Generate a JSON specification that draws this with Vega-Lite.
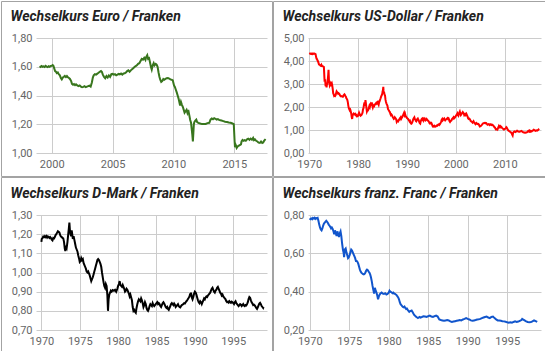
{
"$schema": "https://vega.github.io/schema/vega-lite/v6.json",
"padding": 0,
"datasets": {
"eur": [
{"t":1999.0,"v":1.603},{"t":1999.08,"v":1.598},{"t":1999.17,"v":1.605},{"t":1999.25,"v":1.6},{"t":1999.33,"v":1.603},{"t":1999.42,"v":1.598},{"t":1999.5,"v":1.606},{"t":1999.58,"v":1.601},{"t":1999.67,"v":1.598},{"t":1999.75,"v":1.604},{"t":1999.83,"v":1.6},{"t":1999.92,"v":1.606},{"t":2000.0,"v":1.607},{"t":2000.08,"v":1.612},{"t":2000.15,"v":1.605},{"t":2000.2,"v":1.59},{"t":2000.28,"v":1.57},{"t":2000.35,"v":1.565},{"t":2000.42,"v":1.556},{"t":2000.5,"v":1.56},{"t":2000.58,"v":1.548},{"t":2000.67,"v":1.54},{"t":2000.75,"v":1.522},{"t":2000.83,"v":1.512},{"t":2000.92,"v":1.525},{"t":2001.0,"v":1.53},{"t":2001.08,"v":1.536},{"t":2001.17,"v":1.528},{"t":2001.25,"v":1.535},{"t":2001.33,"v":1.527},{"t":2001.42,"v":1.522},{"t":2001.5,"v":1.515},{"t":2001.6,"v":1.5},{"t":2001.67,"v":1.48},{"t":2001.75,"v":1.475},{"t":2001.83,"v":1.48},{"t":2001.92,"v":1.472},{"t":2002.0,"v":1.478},{"t":2002.1,"v":1.47},{"t":2002.2,"v":1.465},{"t":2002.3,"v":1.47},{"t":2002.4,"v":1.462},{"t":2002.5,"v":1.458},{"t":2002.6,"v":1.46},{"t":2002.7,"v":1.465},{"t":2002.8,"v":1.458},{"t":2002.9,"v":1.462},{"t":2003.0,"v":1.465},{"t":2003.1,"v":1.468},{"t":2003.2,"v":1.462},{"t":2003.3,"v":1.49},{"t":2003.38,"v":1.525},{"t":2003.45,"v":1.54},{"t":2003.55,"v":1.548},{"t":2003.65,"v":1.545},{"t":2003.75,"v":1.552},{"t":2003.85,"v":1.558},{"t":2003.95,"v":1.565},{"t":2004.05,"v":1.57},{"t":2004.12,"v":1.565},{"t":2004.2,"v":1.545},{"t":2004.3,"v":1.53},{"t":2004.4,"v":1.52},{"t":2004.5,"v":1.535},{"t":2004.6,"v":1.525},{"t":2004.7,"v":1.54},{"t":2004.8,"v":1.53},{"t":2004.9,"v":1.548},{"t":2005.0,"v":1.55},{"t":2005.1,"v":1.545},{"t":2005.2,"v":1.548},{"t":2005.3,"v":1.54},{"t":2005.4,"v":1.545},{"t":2005.5,"v":1.55},{"t":2005.6,"v":1.547},{"t":2005.7,"v":1.553},{"t":2005.8,"v":1.545},{"t":2005.9,"v":1.553},{"t":2006.0,"v":1.555},{"t":2006.1,"v":1.56},{"t":2006.2,"v":1.57},{"t":2006.3,"v":1.575},{"t":2006.4,"v":1.565},{"t":2006.5,"v":1.575},{"t":2006.6,"v":1.582},{"t":2006.7,"v":1.59},{"t":2006.8,"v":1.598},{"t":2006.9,"v":1.604},{"t":2007.0,"v":1.61},{"t":2007.1,"v":1.62},{"t":2007.2,"v":1.625},{"t":2007.3,"v":1.64},{"t":2007.4,"v":1.655},{"t":2007.5,"v":1.65},{"t":2007.6,"v":1.662},{"t":2007.7,"v":1.648},{"t":2007.75,"v":1.665},{"t":2007.85,"v":1.68},{"t":2007.92,"v":1.655},{"t":2008.0,"v":1.66},{"t":2008.08,"v":1.63},{"t":2008.15,"v":1.6},{"t":2008.22,"v":1.58},{"t":2008.3,"v":1.61},{"t":2008.38,"v":1.625},{"t":2008.45,"v":1.61},{"t":2008.55,"v":1.62},{"t":2008.62,"v":1.615},{"t":2008.7,"v":1.6},{"t":2008.78,"v":1.56},{"t":2008.85,"v":1.53},{"t":2008.92,"v":1.51},{"t":2009.0,"v":1.495},{"t":2009.08,"v":1.5},{"t":2009.17,"v":1.515},{"t":2009.25,"v":1.51},{"t":2009.35,"v":1.515},{"t":2009.45,"v":1.52},{"t":2009.55,"v":1.522},{"t":2009.65,"v":1.518},{"t":2009.75,"v":1.512},{"t":2009.85,"v":1.51},{"t":2009.95,"v":1.505},{"t":2010.05,"v":1.47},{"t":2010.12,"v":1.46},{"t":2010.2,"v":1.44},{"t":2010.28,"v":1.42},{"t":2010.35,"v":1.4},{"t":2010.42,"v":1.38},{"t":2010.5,"v":1.35},{"t":2010.55,"v":1.33},{"t":2010.62,"v":1.355},{"t":2010.7,"v":1.335},{"t":2010.78,"v":1.32},{"t":2010.85,"v":1.3},{"t":2010.92,"v":1.28},{"t":2011.0,"v":1.29},{"t":2011.08,"v":1.3},{"t":2011.15,"v":1.28},{"t":2011.22,"v":1.3},{"t":2011.3,"v":1.265},{"t":2011.38,"v":1.23},{"t":2011.45,"v":1.21},{"t":2011.5,"v":1.17},{"t":2011.55,"v":1.13},{"t":2011.6,"v":1.08},{"t":2011.64,"v":1.14},{"t":2011.68,"v":1.2},{"t":2011.72,"v":1.215},{"t":2011.8,"v":1.225},{"t":2011.88,"v":1.232},{"t":2011.95,"v":1.215},{"t":2012.05,"v":1.21},{"t":2012.2,"v":1.205},{"t":2012.35,"v":1.201},{"t":2012.5,"v":1.201},{"t":2012.65,"v":1.202},{"t":2012.8,"v":1.208},{"t":2012.95,"v":1.21},{"t":2013.05,"v":1.232},{"t":2013.15,"v":1.24},{"t":2013.25,"v":1.235},{"t":2013.35,"v":1.242},{"t":2013.45,"v":1.238},{"t":2013.55,"v":1.232},{"t":2013.65,"v":1.236},{"t":2013.75,"v":1.23},{"t":2013.85,"v":1.228},{"t":2013.95,"v":1.226},{"t":2014.1,"v":1.222},{"t":2014.25,"v":1.218},{"t":2014.4,"v":1.215},{"t":2014.55,"v":1.212},{"t":2014.7,"v":1.21},{"t":2014.85,"v":1.205},{"t":2014.96,"v":1.201},{"t":2015.03,"v":1.08},{"t":2015.06,"v":1.04},{"t":2015.1,"v":1.06},{"t":2015.15,"v":1.05},{"t":2015.2,"v":1.035},{"t":2015.28,"v":1.045},{"t":2015.35,"v":1.05},{"t":2015.45,"v":1.055},{"t":2015.55,"v":1.06},{"t":2015.6,"v":1.08},{"t":2015.68,"v":1.09},{"t":2015.75,"v":1.085},{"t":2015.85,"v":1.09},{"t":2015.95,"v":1.085},{"t":2016.05,"v":1.095},{"t":2016.15,"v":1.1},{"t":2016.25,"v":1.092},{"t":2016.35,"v":1.1},{"t":2016.45,"v":1.092},{"t":2016.55,"v":1.105},{"t":2016.62,"v":1.09},{"t":2016.7,"v":1.095},{"t":2016.8,"v":1.085},{"t":2016.9,"v":1.08},{"t":2017.0,"v":1.072},{"t":2017.1,"v":1.07},{"t":2017.2,"v":1.08},{"t":2017.3,"v":1.07},{"t":2017.38,"v":1.073},{"t":2017.45,"v":1.085},{"t":2017.52,"v":1.092},{"t":2017.58,"v":1.088}
],
"usd": [
{"t":1970.0,"v":4.31},{"t":1970.1,"v":4.32},{"t":1970.2,"v":4.31},{"t":1970.3,"v":4.32},{"t":1970.4,"v":4.31},{"t":1970.5,"v":4.32},{"t":1970.6,"v":4.3},{"t":1970.7,"v":4.32},{"t":1970.8,"v":4.31},{"t":1970.9,"v":4.32},{"t":1971.0,"v":4.31},{"t":1971.1,"v":4.32},{"t":1971.2,"v":4.31},{"t":1971.3,"v":4.3},{"t":1971.4,"v":4.18},{"t":1971.5,"v":4.1},{"t":1971.6,"v":4.08},{"t":1971.7,"v":4.02},{"t":1971.8,"v":3.98},{"t":1971.9,"v":3.92},{"t":1972.0,"v":3.85},{"t":1972.1,"v":3.84},{"t":1972.2,"v":3.82},{"t":1972.3,"v":3.8},{"t":1972.4,"v":3.79},{"t":1972.5,"v":3.83},{"t":1972.6,"v":3.78},{"t":1972.7,"v":3.78},{"t":1972.8,"v":3.77},{"t":1972.9,"v":3.76},{"t":1973.0,"v":3.74},{"t":1973.1,"v":3.3},{"t":1973.15,"v":3.1},{"t":1973.25,"v":3.2},{"t":1973.35,"v":2.9},{"t":1973.45,"v":2.95},{"t":1973.5,"v":3.05},{"t":1973.55,"v":2.85},{"t":1973.6,"v":2.95},{"t":1973.7,"v":3.0},{"t":1973.8,"v":3.2},{"t":1973.88,"v":3.4},{"t":1973.95,"v":3.62},{"t":1974.0,"v":3.35},{"t":1974.05,"v":3.05},{"t":1974.1,"v":3.15},{"t":1974.2,"v":2.95},{"t":1974.3,"v":3.0},{"t":1974.4,"v":2.9},{"t":1974.5,"v":3.02},{"t":1974.6,"v":3.05},{"t":1974.7,"v":2.95},{"t":1974.8,"v":2.8},{"t":1974.9,"v":2.6},{"t":1975.0,"v":2.55},{"t":1975.1,"v":2.48},{"t":1975.2,"v":2.5},{"t":1975.3,"v":2.48},{"t":1975.4,"v":2.52},{"t":1975.5,"v":2.6},{"t":1975.6,"v":2.68},{"t":1975.7,"v":2.65},{"t":1975.8,"v":2.62},{"t":1975.9,"v":2.58},{"t":1976.0,"v":2.6},{"t":1976.1,"v":2.58},{"t":1976.2,"v":2.55},{"t":1976.3,"v":2.5},{"t":1976.4,"v":2.48},{"t":1976.5,"v":2.46},{"t":1976.6,"v":2.47},{"t":1976.7,"v":2.46},{"t":1976.8,"v":2.45},{"t":1976.9,"v":2.45},{"t":1977.0,"v":2.5},{"t":1977.1,"v":2.53},{"t":1977.2,"v":2.55},{"t":1977.3,"v":2.52},{"t":1977.4,"v":2.48},{"t":1977.5,"v":2.45},{"t":1977.6,"v":2.38},{"t":1977.7,"v":2.35},{"t":1977.8,"v":2.3},{"t":1977.9,"v":2.2},{"t":1978.0,"v":2.05},{"t":1978.1,"v":1.95},{"t":1978.2,"v":1.9},{"t":1978.3,"v":1.85},{"t":1978.4,"v":1.88},{"t":1978.5,"v":1.8},{"t":1978.6,"v":1.7},{"t":1978.7,"v":1.55},{"t":1978.78,"v":1.48},{"t":1978.85,"v":1.6},{"t":1978.95,"v":1.68},{"t":1979.1,"v":1.72},{"t":1979.2,"v":1.7},{"t":1979.3,"v":1.68},{"t":1979.4,"v":1.7},{"t":1979.5,"v":1.65},{"t":1979.6,"v":1.63},{"t":1979.7,"v":1.65},{"t":1979.8,"v":1.6},{"t":1979.9,"v":1.62},{"t":1980.0,"v":1.62},{"t":1980.1,"v":1.68},{"t":1980.2,"v":1.75},{"t":1980.3,"v":1.7},{"t":1980.4,"v":1.65},{"t":1980.5,"v":1.62},{"t":1980.6,"v":1.64},{"t":1980.7,"v":1.66},{"t":1980.8,"v":1.7},{"t":1980.9,"v":1.75},{"t":1981.0,"v":1.9},{"t":1981.1,"v":1.95},{"t":1981.2,"v":2.1},{"t":1981.3,"v":2.2},{"t":1981.4,"v":2.05},{"t":1981.5,"v":2.3},{"t":1981.6,"v":2.15},{"t":1981.7,"v":1.95},{"t":1981.8,"v":1.8},{"t":1981.9,"v":1.85},{"t":1982.0,"v":1.85},{"t":1982.1,"v":1.9},{"t":1982.2,"v":1.98},{"t":1982.3,"v":2.05},{"t":1982.4,"v":2.0},{"t":1982.5,"v":2.1},{"t":1982.6,"v":2.15},{"t":1982.7,"v":2.12},{"t":1982.8,"v":2.2},{"t":1982.9,"v":2.05},{"t":1983.0,"v":1.98},{"t":1983.1,"v":2.05},{"t":1983.2,"v":2.08},{"t":1983.3,"v":2.05},{"t":1983.4,"v":2.1},{"t":1983.5,"v":2.12},{"t":1983.6,"v":2.15},{"t":1983.7,"v":2.18},{"t":1983.8,"v":2.15},{"t":1983.9,"v":2.2},{"t":1984.0,"v":2.22},{"t":1984.1,"v":2.15},{"t":1984.2,"v":2.1},{"t":1984.3,"v":2.2},{"t":1984.4,"v":2.25},{"t":1984.5,"v":2.32},{"t":1984.6,"v":2.38},{"t":1984.7,"v":2.45},{"t":1984.8,"v":2.5},{"t":1984.9,"v":2.55},{"t":1985.0,"v":2.65},{"t":1985.1,"v":2.78},{"t":1985.15,"v":2.88},{"t":1985.2,"v":2.7},{"t":1985.25,"v":2.6},{"t":1985.3,"v":2.65},{"t":1985.4,"v":2.55},{"t":1985.5,"v":2.5},{"t":1985.6,"v":2.32},{"t":1985.7,"v":2.22},{"t":1985.8,"v":2.15},{"t":1985.9,"v":2.1},{"t":1986.0,"v":2.05},{"t":1986.1,"v":1.92},{"t":1986.2,"v":1.88},{"t":1986.3,"v":1.85},{"t":1986.4,"v":1.8},{"t":1986.5,"v":1.78},{"t":1986.6,"v":1.7},{"t":1986.7,"v":1.65},{"t":1986.8,"v":1.68},{"t":1986.9,"v":1.65},{"t":1987.0,"v":1.6},{"t":1987.1,"v":1.55},{"t":1987.2,"v":1.52},{"t":1987.3,"v":1.48},{"t":1987.4,"v":1.5},{"t":1987.5,"v":1.55},{"t":1987.6,"v":1.52},{"t":1987.7,"v":1.5},{"t":1987.8,"v":1.45},{"t":1987.9,"v":1.35},{"t":1988.0,"v":1.38},{"t":1988.1,"v":1.4},{"t":1988.2,"v":1.38},{"t":1988.3,"v":1.42},{"t":1988.4,"v":1.45},{"t":1988.5,"v":1.5},{"t":1988.6,"v":1.52},{"t":1988.7,"v":1.55},{"t":1988.8,"v":1.48},{"t":1988.9,"v":1.52},{"t":1989.0,"v":1.55},{"t":1989.1,"v":1.6},{"t":1989.2,"v":1.65},{"t":1989.3,"v":1.7},{"t":1989.4,"v":1.75},{"t":1989.5,"v":1.65},{"t":1989.6,"v":1.7},{"t":1989.7,"v":1.62},{"t":1989.8,"v":1.58},{"t":1989.9,"v":1.55},{"t":1990.0,"v":1.52},{"t":1990.1,"v":1.5},{"t":1990.2,"v":1.48},{"t":1990.3,"v":1.45},{"t":1990.4,"v":1.42},{"t":1990.5,"v":1.38},{"t":1990.6,"v":1.4},{"t":1990.7,"v":1.32},{"t":1990.8,"v":1.28},{"t":1990.9,"v":1.27},{"t":1991.0,"v":1.3},{"t":1991.1,"v":1.35},{"t":1991.2,"v":1.42},{"t":1991.3,"v":1.48},{"t":1991.4,"v":1.52},{"t":1991.5,"v":1.55},{"t":1991.6,"v":1.48},{"t":1991.7,"v":1.45},{"t":1991.8,"v":1.4},{"t":1991.9,"v":1.38},{"t":1992.0,"v":1.42},{"t":1992.1,"v":1.48},{"t":1992.2,"v":1.5},{"t":1992.3,"v":1.45},{"t":1992.4,"v":1.42},{"t":1992.5,"v":1.35},{"t":1992.6,"v":1.3},{"t":1992.7,"v":1.28},{"t":1992.8,"v":1.38},{"t":1992.9,"v":1.42},{"t":1993.0,"v":1.48},{"t":1993.1,"v":1.5},{"t":1993.2,"v":1.45},{"t":1993.3,"v":1.48},{"t":1993.4,"v":1.42},{"t":1993.5,"v":1.48},{"t":1993.6,"v":1.5},{"t":1993.7,"v":1.45},{"t":1993.8,"v":1.42},{"t":1993.9,"v":1.45},{"t":1994.0,"v":1.48},{"t":1994.1,"v":1.45},{"t":1994.2,"v":1.42},{"t":1994.3,"v":1.4},{"t":1994.4,"v":1.38},{"t":1994.5,"v":1.35},{"t":1994.6,"v":1.3},{"t":1994.7,"v":1.28},{"t":1994.8,"v":1.3},{"t":1994.9,"v":1.32},{"t":1995.0,"v":1.3},{"t":1995.1,"v":1.25},{"t":1995.2,"v":1.18},{"t":1995.3,"v":1.15},{"t":1995.4,"v":1.17},{"t":1995.5,"v":1.15},{"t":1995.6,"v":1.18},{"t":1995.7,"v":1.16},{"t":1995.8,"v":1.15},{"t":1995.9,"v":1.16},{"t":1996.0,"v":1.18},{"t":1996.1,"v":1.2},{"t":1996.2,"v":1.19},{"t":1996.3,"v":1.22},{"t":1996.4,"v":1.24},{"t":1996.5,"v":1.25},{"t":1996.6,"v":1.22},{"t":1996.7,"v":1.24},{"t":1996.8,"v":1.28},{"t":1996.9,"v":1.32},{"t":1997.0,"v":1.38},{"t":1997.1,"v":1.45},{"t":1997.2,"v":1.48},{"t":1997.3,"v":1.42},{"t":1997.4,"v":1.45},{"t":1997.5,"v":1.48},{"t":1997.6,"v":1.5},{"t":1997.7,"v":1.45},{"t":1997.8,"v":1.42},{"t":1997.9,"v":1.45},{"t":1998.0,"v":1.46},{"t":1998.1,"v":1.48},{"t":1998.2,"v":1.5},{"t":1998.3,"v":1.52},{"t":1998.4,"v":1.48},{"t":1998.5,"v":1.5},{"t":1998.6,"v":1.45},{"t":1998.7,"v":1.38},{"t":1998.8,"v":1.35},{"t":1998.9,"v":1.38},{"t":1999.0,"v":1.4},{"t":1999.1,"v":1.42},{"t":1999.2,"v":1.48},{"t":1999.3,"v":1.5},{"t":1999.4,"v":1.52},{"t":1999.5,"v":1.55},{"t":1999.6,"v":1.5},{"t":1999.7,"v":1.52},{"t":1999.8,"v":1.55},{"t":1999.9,"v":1.58},{"t":2000.0,"v":1.62},{"t":2000.1,"v":1.65},{"t":2000.2,"v":1.68},{"t":2000.3,"v":1.72},{"t":2000.4,"v":1.65},{"t":2000.5,"v":1.62},{"t":2000.6,"v":1.7},{"t":2000.7,"v":1.75},{"t":2000.8,"v":1.8},{"t":2000.9,"v":1.72},{"t":2001.0,"v":1.65},{"t":2001.1,"v":1.68},{"t":2001.2,"v":1.72},{"t":2001.3,"v":1.75},{"t":2001.4,"v":1.78},{"t":2001.5,"v":1.75},{"t":2001.6,"v":1.72},{"t":2001.7,"v":1.65},{"t":2001.8,"v":1.68},{"t":2001.9,"v":1.65},{"t":2002.0,"v":1.7},{"t":2002.1,"v":1.72},{"t":2002.2,"v":1.68},{"t":2002.3,"v":1.62},{"t":2002.4,"v":1.58},{"t":2002.5,"v":1.5},{"t":2002.6,"v":1.48},{"t":2002.7,"v":1.5},{"t":2002.8,"v":1.48},{"t":2002.9,"v":1.45},{"t":2003.0,"v":1.4},{"t":2003.1,"v":1.38},{"t":2003.2,"v":1.36},{"t":2003.3,"v":1.35},{"t":2003.4,"v":1.32},{"t":2003.5,"v":1.35},{"t":2003.6,"v":1.38},{"t":2003.7,"v":1.33},{"t":2003.8,"v":1.32},{"t":2003.9,"v":1.28},{"t":2004.0,"v":1.25},{"t":2004.1,"v":1.27},{"t":2004.2,"v":1.3},{"t":2004.3,"v":1.28},{"t":2004.4,"v":1.26},{"t":2004.5,"v":1.25},{"t":2004.6,"v":1.26},{"t":2004.7,"v":1.24},{"t":2004.8,"v":1.18},{"t":2004.9,"v":1.15},{"t":2005.0,"v":1.17},{"t":2005.1,"v":1.18},{"t":2005.2,"v":1.2},{"t":2005.3,"v":1.22},{"t":2005.4,"v":1.25},{"t":2005.5,"v":1.28},{"t":2005.6,"v":1.29},{"t":2005.7,"v":1.3},{"t":2005.8,"v":1.31},{"t":2005.9,"v":1.3},{"t":2006.0,"v":1.29},{"t":2006.1,"v":1.31},{"t":2006.2,"v":1.3},{"t":2006.3,"v":1.27},{"t":2006.4,"v":1.24},{"t":2006.5,"v":1.23},{"t":2006.6,"v":1.25},{"t":2006.7,"v":1.26},{"t":2006.8,"v":1.25},{"t":2006.9,"v":1.22},{"t":2007.0,"v":1.24},{"t":2007.1,"v":1.25},{"t":2007.2,"v":1.22},{"t":2007.3,"v":1.21},{"t":2007.4,"v":1.23},{"t":2007.5,"v":1.22},{"t":2007.6,"v":1.2},{"t":2007.7,"v":1.18},{"t":2007.8,"v":1.15},{"t":2007.9,"v":1.12},{"t":2008.0,"v":1.1},{"t":2008.1,"v":1.05},{"t":2008.2,"v":1.02},{"t":2008.3,"v":1.03},{"t":2008.4,"v":1.04},{"t":2008.5,"v":1.02},{"t":2008.6,"v":1.08},{"t":2008.7,"v":1.12},{"t":2008.8,"v":1.18},{"t":2008.9,"v":1.15},{"t":2009.0,"v":1.12},{"t":2009.1,"v":1.17},{"t":2009.2,"v":1.15},{"t":2009.3,"v":1.13},{"t":2009.4,"v":1.1},{"t":2009.5,"v":1.08},{"t":2009.6,"v":1.06},{"t":2009.7,"v":1.04},{"t":2009.8,"v":1.02},{"t":2009.9,"v":1.03},{"t":2010.0,"v":1.05},{"t":2010.1,"v":1.06},{"t":2010.2,"v":1.08},{"t":2010.3,"v":1.12},{"t":2010.4,"v":1.1},{"t":2010.5,"v":1.05},{"t":2010.6,"v":1.02},{"t":2010.7,"v":0.98},{"t":2010.8,"v":0.97},{"t":2010.9,"v":0.95},{"t":2011.0,"v":0.94},{"t":2011.1,"v":0.92},{"t":2011.2,"v":0.91},{"t":2011.3,"v":0.88},{"t":2011.4,"v":0.85},{"t":2011.5,"v":0.8},{"t":2011.6,"v":0.76},{"t":2011.65,"v":0.82},{"t":2011.7,"v":0.88},{"t":2011.8,"v":0.91},{"t":2011.9,"v":0.93},{"t":2012.0,"v":0.94},{"t":2012.1,"v":0.92},{"t":2012.2,"v":0.91},{"t":2012.3,"v":0.93},{"t":2012.4,"v":0.95},{"t":2012.5,"v":0.97},{"t":2012.6,"v":0.96},{"t":2012.7,"v":0.94},{"t":2012.8,"v":0.93},{"t":2012.9,"v":0.92},{"t":2013.0,"v":0.92},{"t":2013.1,"v":0.93},{"t":2013.2,"v":0.94},{"t":2013.3,"v":0.95},{"t":2013.4,"v":0.96},{"t":2013.5,"v":0.94},{"t":2013.6,"v":0.93},{"t":2013.7,"v":0.91},{"t":2013.8,"v":0.9},{"t":2013.9,"v":0.89},{"t":2014.0,"v":0.89},{"t":2014.1,"v":0.88},{"t":2014.2,"v":0.88},{"t":2014.3,"v":0.89},{"t":2014.4,"v":0.89},{"t":2014.5,"v":0.9},{"t":2014.6,"v":0.91},{"t":2014.7,"v":0.94},{"t":2014.8,"v":0.96},{"t":2014.9,"v":0.97},{"t":2015.0,"v":0.98},{"t":2015.05,"v":0.88},{"t":2015.1,"v":0.92},{"t":2015.2,"v":0.95},{"t":2015.3,"v":0.96},{"t":2015.4,"v":0.93},{"t":2015.5,"v":0.94},{"t":2015.6,"v":0.96},{"t":2015.7,"v":0.97},{"t":2015.8,"v":0.99},{"t":2015.9,"v":1.01},{"t":2016.0,"v":1.0},{"t":2016.1,"v":0.99},{"t":2016.2,"v":0.97},{"t":2016.3,"v":0.96},{"t":2016.4,"v":0.97},{"t":2016.5,"v":0.98},{"t":2016.6,"v":0.97},{"t":2016.7,"v":0.98},{"t":2016.8,"v":1.0},{"t":2016.9,"v":1.02},{"t":2017.0,"v":0.99}
],
"dem": [
{"t":1970.0,"v":1.16},{"t":1970.05,"v":1.175},{"t":1970.15,"v":1.18},{"t":1970.25,"v":1.188},{"t":1970.35,"v":1.185},{"t":1970.45,"v":1.19},{"t":1970.55,"v":1.185},{"t":1970.65,"v":1.19},{"t":1970.75,"v":1.182},{"t":1970.85,"v":1.188},{"t":1970.95,"v":1.185},{"t":1971.05,"v":1.18},{"t":1971.15,"v":1.185},{"t":1971.25,"v":1.18},{"t":1971.35,"v":1.172},{"t":1971.45,"v":1.168},{"t":1971.55,"v":1.18},{"t":1971.65,"v":1.178},{"t":1971.75,"v":1.185},{"t":1971.85,"v":1.195},{"t":1971.95,"v":1.2},{"t":1972.05,"v":1.208},{"t":1972.15,"v":1.215},{"t":1972.25,"v":1.212},{"t":1972.35,"v":1.208},{"t":1972.45,"v":1.195},{"t":1972.55,"v":1.188},{"t":1972.65,"v":1.185},{"t":1972.75,"v":1.18},{"t":1972.85,"v":1.178},{"t":1972.95,"v":1.16},{"t":1973.05,"v":1.125},{"t":1973.12,"v":1.112},{"t":1973.2,"v":1.14},{"t":1973.3,"v":1.13},{"t":1973.4,"v":1.16},{"t":1973.5,"v":1.2},{"t":1973.58,"v":1.23},{"t":1973.65,"v":1.26},{"t":1973.72,"v":1.22},{"t":1973.8,"v":1.2},{"t":1973.88,"v":1.19},{"t":1973.95,"v":1.22},{"t":1974.02,"v":1.2},{"t":1974.1,"v":1.175},{"t":1974.2,"v":1.19},{"t":1974.3,"v":1.17},{"t":1974.4,"v":1.15},{"t":1974.5,"v":1.13},{"t":1974.6,"v":1.12},{"t":1974.7,"v":1.11},{"t":1974.8,"v":1.09},{"t":1974.9,"v":1.075},{"t":1975.0,"v":1.055},{"t":1975.1,"v":1.06},{"t":1975.2,"v":1.075},{"t":1975.3,"v":1.065},{"t":1975.4,"v":1.07},{"t":1975.5,"v":1.05},{"t":1975.6,"v":1.04},{"t":1975.7,"v":1.03},{"t":1975.8,"v":1.02},{"t":1975.9,"v":1.005},{"t":1976.0,"v":1.0},{"t":1976.1,"v":1.005},{"t":1976.2,"v":0.995},{"t":1976.3,"v":0.985},{"t":1976.4,"v":0.97},{"t":1976.5,"v":0.955},{"t":1976.6,"v":0.965},{"t":1976.7,"v":0.975},{"t":1976.8,"v":0.99},{"t":1976.9,"v":1.005},{"t":1977.0,"v":1.02},{"t":1977.1,"v":1.035},{"t":1977.2,"v":1.05},{"t":1977.3,"v":1.065},{"t":1977.4,"v":1.07},{"t":1977.5,"v":1.065},{"t":1977.6,"v":1.055},{"t":1977.7,"v":1.045},{"t":1977.8,"v":1.03},{"t":1977.9,"v":1.0},{"t":1978.0,"v":0.975},{"t":1978.1,"v":0.95},{"t":1978.2,"v":0.93},{"t":1978.3,"v":0.92},{"t":1978.4,"v":0.94},{"t":1978.5,"v":0.93},{"t":1978.6,"v":0.88},{"t":1978.68,"v":0.8},{"t":1978.76,"v":0.86},{"t":1978.85,"v":0.885},{"t":1978.95,"v":0.895},{"t":1979.05,"v":0.905},{"t":1979.15,"v":0.9},{"t":1979.3,"v":0.908},{"t":1979.45,"v":0.905},{"t":1979.6,"v":0.91},{"t":1979.75,"v":0.9},{"t":1979.9,"v":0.915},{"t":1980.0,"v":0.93},{"t":1980.1,"v":0.94},{"t":1980.2,"v":0.955},{"t":1980.3,"v":0.935},{"t":1980.4,"v":0.93},{"t":1980.5,"v":0.925},{"t":1980.6,"v":0.935},{"t":1980.7,"v":0.925},{"t":1980.8,"v":0.915},{"t":1980.9,"v":0.9},{"t":1981.0,"v":0.905},{"t":1981.1,"v":0.915},{"t":1981.2,"v":0.91},{"t":1981.3,"v":0.9},{"t":1981.4,"v":0.89},{"t":1981.5,"v":0.875},{"t":1981.6,"v":0.885},{"t":1981.7,"v":0.87},{"t":1981.8,"v":0.855},{"t":1981.9,"v":0.82},{"t":1982.0,"v":0.8},{"t":1982.1,"v":0.805},{"t":1982.2,"v":0.795},{"t":1982.3,"v":0.79},{"t":1982.4,"v":0.815},{"t":1982.5,"v":0.835},{"t":1982.6,"v":0.85},{"t":1982.7,"v":0.86},{"t":1982.8,"v":0.855},{"t":1982.9,"v":0.85},{"t":1983.0,"v":0.865},{"t":1983.1,"v":0.855},{"t":1983.2,"v":0.84},{"t":1983.3,"v":0.82},{"t":1983.4,"v":0.83},{"t":1983.5,"v":0.845},{"t":1983.6,"v":0.835},{"t":1983.7,"v":0.815},{"t":1983.8,"v":0.805},{"t":1983.9,"v":0.8},{"t":1984.0,"v":0.81},{"t":1984.1,"v":0.825},{"t":1984.2,"v":0.835},{"t":1984.3,"v":0.83},{"t":1984.4,"v":0.825},{"t":1984.5,"v":0.84},{"t":1984.6,"v":0.83},{"t":1984.7,"v":0.825},{"t":1984.8,"v":0.83},{"t":1984.9,"v":0.835},{"t":1985.0,"v":0.84},{"t":1985.1,"v":0.845},{"t":1985.2,"v":0.835},{"t":1985.3,"v":0.84},{"t":1985.4,"v":0.835},{"t":1985.5,"v":0.825},{"t":1985.6,"v":0.82},{"t":1985.7,"v":0.83},{"t":1985.8,"v":0.84},{"t":1985.9,"v":0.845},{"t":1986.0,"v":0.838},{"t":1986.1,"v":0.83},{"t":1986.2,"v":0.82},{"t":1986.3,"v":0.815},{"t":1986.4,"v":0.82},{"t":1986.5,"v":0.81},{"t":1986.6,"v":0.805},{"t":1986.7,"v":0.815},{"t":1986.8,"v":0.825},{"t":1986.9,"v":0.835},{"t":1987.0,"v":0.84},{"t":1987.1,"v":0.835},{"t":1987.2,"v":0.83},{"t":1987.3,"v":0.838},{"t":1987.4,"v":0.832},{"t":1987.5,"v":0.82},{"t":1987.6,"v":0.825},{"t":1987.7,"v":0.83},{"t":1987.8,"v":0.835},{"t":1987.9,"v":0.825},{"t":1988.0,"v":0.82},{"t":1988.1,"v":0.818},{"t":1988.2,"v":0.825},{"t":1988.3,"v":0.83},{"t":1988.4,"v":0.832},{"t":1988.5,"v":0.835},{"t":1988.6,"v":0.84},{"t":1988.7,"v":0.838},{"t":1988.8,"v":0.845},{"t":1988.9,"v":0.85},{"t":1989.0,"v":0.855},{"t":1989.1,"v":0.862},{"t":1989.2,"v":0.868},{"t":1989.3,"v":0.875},{"t":1989.4,"v":0.89},{"t":1989.45,"v":0.88},{"t":1989.5,"v":0.895},{"t":1989.6,"v":0.87},{"t":1989.7,"v":0.86},{"t":1989.8,"v":0.872},{"t":1989.9,"v":0.89},{"t":1990.0,"v":0.9},{"t":1990.1,"v":0.895},{"t":1990.2,"v":0.885},{"t":1990.3,"v":0.87},{"t":1990.4,"v":0.855},{"t":1990.5,"v":0.845},{"t":1990.6,"v":0.84},{"t":1990.7,"v":0.85},{"t":1990.8,"v":0.845},{"t":1990.9,"v":0.835},{"t":1991.0,"v":0.845},{"t":1991.1,"v":0.855},{"t":1991.2,"v":0.865},{"t":1991.3,"v":0.86},{"t":1991.4,"v":0.87},{"t":1991.5,"v":0.875},{"t":1991.6,"v":0.872},{"t":1991.7,"v":0.88},{"t":1991.8,"v":0.885},{"t":1991.9,"v":0.89},{"t":1992.0,"v":0.895},{"t":1992.1,"v":0.905},{"t":1992.2,"v":0.915},{"t":1992.3,"v":0.92},{"t":1992.4,"v":0.91},{"t":1992.5,"v":0.9},{"t":1992.6,"v":0.895},{"t":1992.7,"v":0.905},{"t":1992.8,"v":0.91},{"t":1992.9,"v":0.92},{"t":1993.0,"v":0.925},{"t":1993.1,"v":0.915},{"t":1993.2,"v":0.905},{"t":1993.3,"v":0.895},{"t":1993.4,"v":0.89},{"t":1993.5,"v":0.88},{"t":1993.6,"v":0.885},{"t":1993.7,"v":0.875},{"t":1993.8,"v":0.87},{"t":1993.9,"v":0.865},{"t":1994.0,"v":0.86},{"t":1994.1,"v":0.85},{"t":1994.2,"v":0.845},{"t":1994.3,"v":0.848},{"t":1994.4,"v":0.843},{"t":1994.5,"v":0.85},{"t":1994.6,"v":0.845},{"t":1994.7,"v":0.842},{"t":1994.8,"v":0.848},{"t":1994.9,"v":0.845},{"t":1995.0,"v":0.84},{"t":1995.1,"v":0.835},{"t":1995.2,"v":0.845},{"t":1995.3,"v":0.85},{"t":1995.4,"v":0.84},{"t":1995.5,"v":0.835},{"t":1995.6,"v":0.83},{"t":1995.7,"v":0.825},{"t":1995.8,"v":0.83},{"t":1995.9,"v":0.835},{"t":1996.0,"v":0.832},{"t":1996.1,"v":0.825},{"t":1996.2,"v":0.83},{"t":1996.3,"v":0.835},{"t":1996.4,"v":0.828},{"t":1996.5,"v":0.825},{"t":1996.6,"v":0.83},{"t":1996.7,"v":0.828},{"t":1996.8,"v":0.835},{"t":1996.9,"v":0.845},{"t":1997.0,"v":0.862},{"t":1997.1,"v":0.872},{"t":1997.2,"v":0.868},{"t":1997.3,"v":0.855},{"t":1997.4,"v":0.845},{"t":1997.5,"v":0.838},{"t":1997.6,"v":0.83},{"t":1997.7,"v":0.832},{"t":1997.8,"v":0.828},{"t":1997.9,"v":0.822},{"t":1998.0,"v":0.815},{"t":1998.1,"v":0.81},{"t":1998.2,"v":0.818},{"t":1998.3,"v":0.828},{"t":1998.4,"v":0.838},{"t":1998.5,"v":0.842},{"t":1998.6,"v":0.835},{"t":1998.7,"v":0.825},{"t":1998.8,"v":0.82},{"t":1998.9,"v":0.815},{"t":1998.95,"v":0.82}
],
"frf": [
{"t":1970.0,"v":0.775},{"t":1970.1,"v":0.78},{"t":1970.2,"v":0.782},{"t":1970.3,"v":0.778},{"t":1970.4,"v":0.785},{"t":1970.5,"v":0.782},{"t":1970.6,"v":0.786},{"t":1970.7,"v":0.78},{"t":1970.8,"v":0.784},{"t":1970.9,"v":0.782},{"t":1971.0,"v":0.785},{"t":1971.1,"v":0.77},{"t":1971.2,"v":0.75},{"t":1971.3,"v":0.735},{"t":1971.4,"v":0.725},{"t":1971.5,"v":0.72},{"t":1971.6,"v":0.73},{"t":1971.7,"v":0.745},{"t":1971.8,"v":0.755},{"t":1971.9,"v":0.76},{"t":1972.0,"v":0.765},{"t":1972.1,"v":0.77},{"t":1972.2,"v":0.765},{"t":1972.3,"v":0.758},{"t":1972.4,"v":0.75},{"t":1972.5,"v":0.745},{"t":1972.6,"v":0.738},{"t":1972.7,"v":0.73},{"t":1972.8,"v":0.735},{"t":1972.9,"v":0.728},{"t":1973.0,"v":0.715},{"t":1973.1,"v":0.7},{"t":1973.2,"v":0.72},{"t":1973.3,"v":0.705},{"t":1973.4,"v":0.69},{"t":1973.5,"v":0.715},{"t":1973.6,"v":0.7},{"t":1973.7,"v":0.685},{"t":1973.8,"v":0.705},{"t":1973.9,"v":0.715},{"t":1974.0,"v":0.69},{"t":1974.1,"v":0.65},{"t":1974.2,"v":0.62},{"t":1974.3,"v":0.6},{"t":1974.35,"v":0.58},{"t":1974.45,"v":0.62},{"t":1974.55,"v":0.625},{"t":1974.65,"v":0.605},{"t":1974.75,"v":0.59},{"t":1974.85,"v":0.575},{"t":1974.95,"v":0.58},{"t":1975.05,"v":0.59},{"t":1975.15,"v":0.605},{"t":1975.25,"v":0.62},{"t":1975.35,"v":0.615},{"t":1975.45,"v":0.605},{"t":1975.55,"v":0.595},{"t":1975.65,"v":0.585},{"t":1975.75,"v":0.575},{"t":1975.85,"v":0.56},{"t":1975.95,"v":0.56},{"t":1976.05,"v":0.555},{"t":1976.15,"v":0.545},{"t":1976.25,"v":0.53},{"t":1976.35,"v":0.515},{"t":1976.45,"v":0.505},{"t":1976.55,"v":0.498},{"t":1976.65,"v":0.495},{"t":1976.75,"v":0.492},{"t":1976.85,"v":0.49},{"t":1976.95,"v":0.493},{"t":1977.05,"v":0.5},{"t":1977.15,"v":0.51},{"t":1977.25,"v":0.515},{"t":1977.35,"v":0.512},{"t":1977.45,"v":0.505},{"t":1977.55,"v":0.5},{"t":1977.65,"v":0.49},{"t":1977.75,"v":0.475},{"t":1977.85,"v":0.455},{"t":1977.95,"v":0.43},{"t":1978.05,"v":0.41},{"t":1978.15,"v":0.39},{"t":1978.25,"v":0.42},{"t":1978.35,"v":0.405},{"t":1978.45,"v":0.395},{"t":1978.55,"v":0.38},{"t":1978.65,"v":0.36},{"t":1978.75,"v":0.375},{"t":1978.85,"v":0.385},{"t":1978.95,"v":0.39},{"t":1979.1,"v":0.395},{"t":1979.25,"v":0.39},{"t":1979.4,"v":0.388},{"t":1979.55,"v":0.392},{"t":1979.7,"v":0.385},{"t":1979.85,"v":0.388},{"t":1980.0,"v":0.395},{"t":1980.1,"v":0.405},{"t":1980.2,"v":0.4},{"t":1980.3,"v":0.398},{"t":1980.4,"v":0.395},{"t":1980.5,"v":0.392},{"t":1980.6,"v":0.395},{"t":1980.7,"v":0.39},{"t":1980.8,"v":0.388},{"t":1980.9,"v":0.385},{"t":1981.0,"v":0.382},{"t":1981.1,"v":0.375},{"t":1981.2,"v":0.37},{"t":1981.3,"v":0.36},{"t":1981.4,"v":0.345},{"t":1981.5,"v":0.335},{"t":1981.6,"v":0.33},{"t":1981.7,"v":0.325},{"t":1981.8,"v":0.32},{"t":1981.9,"v":0.318},{"t":1982.0,"v":0.322},{"t":1982.1,"v":0.315},{"t":1982.2,"v":0.31},{"t":1982.3,"v":0.312},{"t":1982.4,"v":0.305},{"t":1982.5,"v":0.3},{"t":1982.6,"v":0.295},{"t":1982.7,"v":0.298},{"t":1982.8,"v":0.3},{"t":1982.9,"v":0.302},{"t":1983.0,"v":0.295},{"t":1983.1,"v":0.288},{"t":1983.2,"v":0.28},{"t":1983.3,"v":0.275},{"t":1983.4,"v":0.272},{"t":1983.5,"v":0.268},{"t":1983.6,"v":0.265},{"t":1983.7,"v":0.262},{"t":1983.8,"v":0.265},{"t":1983.9,"v":0.268},{"t":1984.0,"v":0.265},{"t":1984.2,"v":0.268},{"t":1984.4,"v":0.272},{"t":1984.6,"v":0.27},{"t":1984.8,"v":0.268},{"t":1985.0,"v":0.272},{"t":1985.2,"v":0.275},{"t":1985.4,"v":0.27},{"t":1985.6,"v":0.268},{"t":1985.8,"v":0.272},{"t":1986.0,"v":0.275},{"t":1986.2,"v":0.27},{"t":1986.3,"v":0.262},{"t":1986.4,"v":0.255},{"t":1986.6,"v":0.252},{"t":1986.8,"v":0.25},{"t":1987.0,"v":0.248},{"t":1987.2,"v":0.25},{"t":1987.4,"v":0.252},{"t":1987.6,"v":0.25},{"t":1987.8,"v":0.245},{"t":1988.0,"v":0.242},{"t":1988.2,"v":0.244},{"t":1988.4,"v":0.246},{"t":1988.6,"v":0.248},{"t":1988.8,"v":0.25},{"t":1989.0,"v":0.252},{"t":1989.2,"v":0.25},{"t":1989.4,"v":0.255},{"t":1989.6,"v":0.258},{"t":1989.8,"v":0.262},{"t":1990.0,"v":0.258},{"t":1990.2,"v":0.255},{"t":1990.4,"v":0.25},{"t":1990.6,"v":0.248},{"t":1990.8,"v":0.25},{"t":1991.0,"v":0.252},{"t":1991.2,"v":0.255},{"t":1991.4,"v":0.256},{"t":1991.6,"v":0.258},{"t":1991.8,"v":0.262},{"t":1992.0,"v":0.265},{"t":1992.2,"v":0.268},{"t":1992.4,"v":0.27},{"t":1992.6,"v":0.265},{"t":1992.8,"v":0.262},{"t":1993.0,"v":0.268},{"t":1993.2,"v":0.27},{"t":1993.4,"v":0.262},{"t":1993.6,"v":0.255},{"t":1993.8,"v":0.25},{"t":1994.0,"v":0.25},{"t":1994.2,"v":0.248},{"t":1994.4,"v":0.246},{"t":1994.6,"v":0.245},{"t":1994.8,"v":0.243},{"t":1995.0,"v":0.24},{"t":1995.2,"v":0.238},{"t":1995.4,"v":0.24},{"t":1995.6,"v":0.238},{"t":1995.8,"v":0.242},{"t":1996.0,"v":0.245},{"t":1996.2,"v":0.242},{"t":1996.4,"v":0.244},{"t":1996.6,"v":0.248},{"t":1996.8,"v":0.252},{"t":1996.9,"v":0.258},{"t":1997.0,"v":0.255},{"t":1997.2,"v":0.25},{"t":1997.4,"v":0.245},{"t":1997.6,"v":0.242},{"t":1997.8,"v":0.24},{"t":1998.0,"v":0.242},{"t":1998.2,"v":0.245},{"t":1998.4,"v":0.25},{"t":1998.6,"v":0.246},{"t":1998.8,"v":0.242}
]
},
"config": {
"locale": {"number": {"decimal": ",", "thousands": ".", "grouping": [3], "currency": ["", " €"]}},
"view": {"stroke": null},
"font": "Roboto",
"axis": {"ticks": false, "tickSize": 0, "domain": false, "grid": true, "gridColor": "#cccccc", "gridWidth": 1, "labelColor": "#666666", "labelFontSize": 11, "labelFont": "Roboto", "labelPadding": 5, "labelFlush": false, "labelOverlap": false, "minExtent": 0, "tickColor": "#a3a3a3", "tickWidth": 1},
"axisY": {"minExtent": 28, "maxExtent": 28, "labelPadding": 4},
"title": {"font": "Roboto", "fontSize": 14, "fontWeight": "bold", "fontStyle": "italic", "anchor": "start", "color": "#222222", "frame": "bounds", "dx": 10},
"line": {"strokeWidth": 2}
},
"spacing": -1,
"vconcat": [
{"spacing": -1, "hconcat": [
{"width": 231, "height": 115, "title": {"text": "Wechselkurs Euro / Franken", "offset": -23.5}, "data": {"name": "eur"},
 "resolve": {"axis": {"x": "independent", "y": "independent"}},
 "layer": [
 {"mark": {"type": "line", "color": "#38761d"},
  "encoding": {
   "x": {"field": "t", "type": "quantitative", "scale": {"domain": [1998.71, 2017.69], "nice": false, "zero": false}, "axis": {"orient": "bottom", "values": [2000, 2005, 2010, 2015], "format": "d", "title": null}},
   "y": {"field": "v", "type": "quantitative", "scale": {"domain": [1.0, 1.8], "nice": false, "zero": false}, "axis": {"orient": "left", "values": [1.0, 1.2, 1.4, 1.6, 1.8], "format": ".2f", "title": null}}}},
 {"mark": {"type": "line", "opacity": 0},
  "encoding": {
   "x": {"field": "t", "type": "quantitative", "scale": {"domain": [1998.71, 2017.69], "nice": false, "zero": false}, "axis": {"orient": "bottom", "values": [1998.71], "labels": false, "grid": false, "ticks": true, "tickOffset": -35, "tickSize": 175, "offset": -152, "title": null}},
   "y": {"field": "v", "type": "quantitative", "scale": {"domain": [1.0, 1.8], "nice": false, "zero": false}, "axis": {"orient": "left", "values": [1.8], "labels": false, "grid": false, "ticks": true, "tickOffset": -37, "tickSize": 271, "offset": -236, "title": null}}}},
 {"mark": {"type": "line", "opacity": 0},
  "encoding": {
   "x": {"field": "t", "type": "quantitative", "scale": {"domain": [1998.71, 2017.69], "nice": false, "zero": false}, "axis": {"orient": "bottom", "values": [2017.69], "labels": false, "grid": false, "ticks": true, "tickOffset": 5, "tickSize": 175, "offset": -152, "title": null}},
   "y": {"field": "v", "type": "quantitative", "scale": {"domain": [1.0, 1.8], "nice": false, "zero": false}, "axis": {"orient": "left", "values": [1.0], "labels": false, "grid": false, "ticks": true, "tickOffset": 23, "tickSize": 271, "offset": -236, "title": null}}}}
 ]},
{"width": 233, "height": 115, "title": {"text": "Wechselkurs US-Dollar / Franken", "offset": -23.5}, "data": {"name": "usd"},
 "resolve": {"axis": {"x": "independent", "y": "independent"}},
 "layer": [
 {"mark": {"type": "line", "color": "#ff0000"},
  "encoding": {
   "x": {"field": "t", "type": "quantitative", "scale": {"domain": [1969.75, 2017.4], "nice": false, "zero": false}, "axis": {"orient": "bottom", "values": [1970, 1980, 1990, 2000, 2010], "format": "d", "title": null}},
   "y": {"field": "v", "type": "quantitative", "scale": {"domain": [0, 5], "nice": false, "zero": false}, "axis": {"orient": "left", "values": [0, 1, 2, 3, 4, 5], "format": ".2f", "title": null}}}},
 {"mark": {"type": "line", "opacity": 0},
  "encoding": {
   "x": {"field": "t", "type": "quantitative", "scale": {"domain": [1969.75, 2017.4], "nice": false, "zero": false}, "axis": {"orient": "bottom", "values": [1969.75], "labels": false, "grid": false, "ticks": true, "tickOffset": -35, "tickSize": 175, "offset": -152, "title": null}},
   "y": {"field": "v", "type": "quantitative", "scale": {"domain": [0, 5], "nice": false, "zero": false}, "axis": {"orient": "left", "values": [5], "labels": false, "grid": false, "ticks": true, "tickOffset": -37, "tickSize": 272, "offset": -237, "title": null}}}},
 {"mark": {"type": "line", "opacity": 0},
  "encoding": {
   "x": {"field": "t", "type": "quantitative", "scale": {"domain": [1969.75, 2017.4], "nice": false, "zero": false}, "axis": {"orient": "bottom", "values": [2017.4], "labels": false, "grid": false, "ticks": true, "tickOffset": 4, "tickSize": 175, "offset": -152, "title": null}},
   "y": {"field": "v", "type": "quantitative", "scale": {"domain": [0, 5], "nice": false, "zero": false}, "axis": {"orient": "left", "values": [0], "labels": false, "grid": false, "ticks": true, "tickOffset": 23, "tickSize": 272, "offset": -237, "title": null}}}}
 ]}
]},
{"spacing": -1, "hconcat": [
{"width": 231, "height": 115, "title": {"text": "Wechselkurs D-Mark / Franken", "offset": -24.5}, "data": {"name": "dem"},
 "resolve": {"axis": {"x": "independent", "y": "independent"}},
 "layer": [
 {"mark": {"type": "line", "color": "#000000"},
  "encoding": {
   "x": {"field": "t", "type": "quantitative", "scale": {"domain": [1969.3, 1999.4], "nice": false, "zero": false}, "axis": {"orient": "bottom", "values": [1970, 1975, 1980, 1985, 1990, 1995], "format": "d", "title": null}},
   "y": {"field": "v", "type": "quantitative", "scale": {"domain": [0.7, 1.3], "nice": false, "zero": false}, "axis": {"orient": "left", "values": [0.7, 0.8, 0.9, 1.0, 1.1, 1.2, 1.3], "format": ".2f", "title": null}}}},
 {"mark": {"type": "line", "opacity": 0},
  "encoding": {
   "x": {"field": "t", "type": "quantitative", "scale": {"domain": [1969.3, 1999.4], "nice": false, "zero": false}, "axis": {"orient": "bottom", "values": [1969.3], "labels": false, "grid": false, "ticks": true, "tickOffset": -35, "tickSize": 174, "offset": -153, "title": null}},
   "y": {"field": "v", "type": "quantitative", "scale": {"domain": [0.7, 1.3], "nice": false, "zero": false}, "axis": {"orient": "left", "values": [1.3], "labels": false, "grid": false, "ticks": true, "tickOffset": -38, "tickSize": 271, "offset": -236, "title": null}}}},
 {"mark": {"type": "line", "opacity": 0},
  "encoding": {
   "x": {"field": "t", "type": "quantitative", "scale": {"domain": [1969.3, 1999.4], "nice": false, "zero": false}, "axis": {"orient": "bottom", "values": [1999.4], "labels": false, "grid": false, "ticks": true, "tickOffset": 5, "tickSize": 174, "offset": -153, "title": null}},
   "y": {"field": "v", "type": "quantitative", "scale": {"domain": [0.7, 1.3], "nice": false, "zero": false}, "axis": {"orient": "left", "values": [0.7], "labels": false, "grid": false, "ticks": true, "tickOffset": 21, "tickSize": 271, "offset": -236, "title": null}}}}
 ]},
{"width": 233, "height": 115, "title": {"text": "Wechselkurs franz. Franc / Franken", "offset": -24.5}, "data": {"name": "frf"},
 "resolve": {"axis": {"x": "independent", "y": "independent"}},
 "layer": [
 {"mark": {"type": "line", "color": "#1155cc"},
  "encoding": {
   "x": {"field": "t", "type": "quantitative", "scale": {"domain": [1969.78, 1999.28], "nice": false, "zero": false}, "axis": {"orient": "bottom", "values": [1970, 1975, 1980, 1985, 1990, 1995], "format": "d", "title": null}},
   "y": {"field": "v", "type": "quantitative", "scale": {"domain": [0.2, 0.8], "nice": false, "zero": false}, "axis": {"orient": "left", "values": [0.2, 0.4, 0.6, 0.8], "format": ".2f", "title": null}}}},
 {"mark": {"type": "line", "opacity": 0},
  "encoding": {
   "x": {"field": "t", "type": "quantitative", "scale": {"domain": [1969.78, 1999.28], "nice": false, "zero": false}, "axis": {"orient": "bottom", "values": [1969.78], "labels": false, "grid": false, "ticks": true, "tickOffset": -35, "tickSize": 174, "offset": -153, "title": null}},
   "y": {"field": "v", "type": "quantitative", "scale": {"domain": [0.2, 0.8], "nice": false, "zero": false}, "axis": {"orient": "left", "values": [0.8], "labels": false, "grid": false, "ticks": true, "tickOffset": -38, "tickSize": 272, "offset": -237, "title": null}}}},
 {"mark": {"type": "line", "opacity": 0},
  "encoding": {
   "x": {"field": "t", "type": "quantitative", "scale": {"domain": [1969.78, 1999.28], "nice": false, "zero": false}, "axis": {"orient": "bottom", "values": [1999.28], "labels": false, "grid": false, "ticks": true, "tickOffset": 4, "tickSize": 174, "offset": -153, "title": null}},
   "y": {"field": "v", "type": "quantitative", "scale": {"domain": [0.2, 0.8], "nice": false, "zero": false}, "axis": {"orient": "left", "values": [0.2], "labels": false, "grid": false, "ticks": true, "tickOffset": 21, "tickSize": 272, "offset": -237, "title": null}}}}
 ]}
]}
]
}
